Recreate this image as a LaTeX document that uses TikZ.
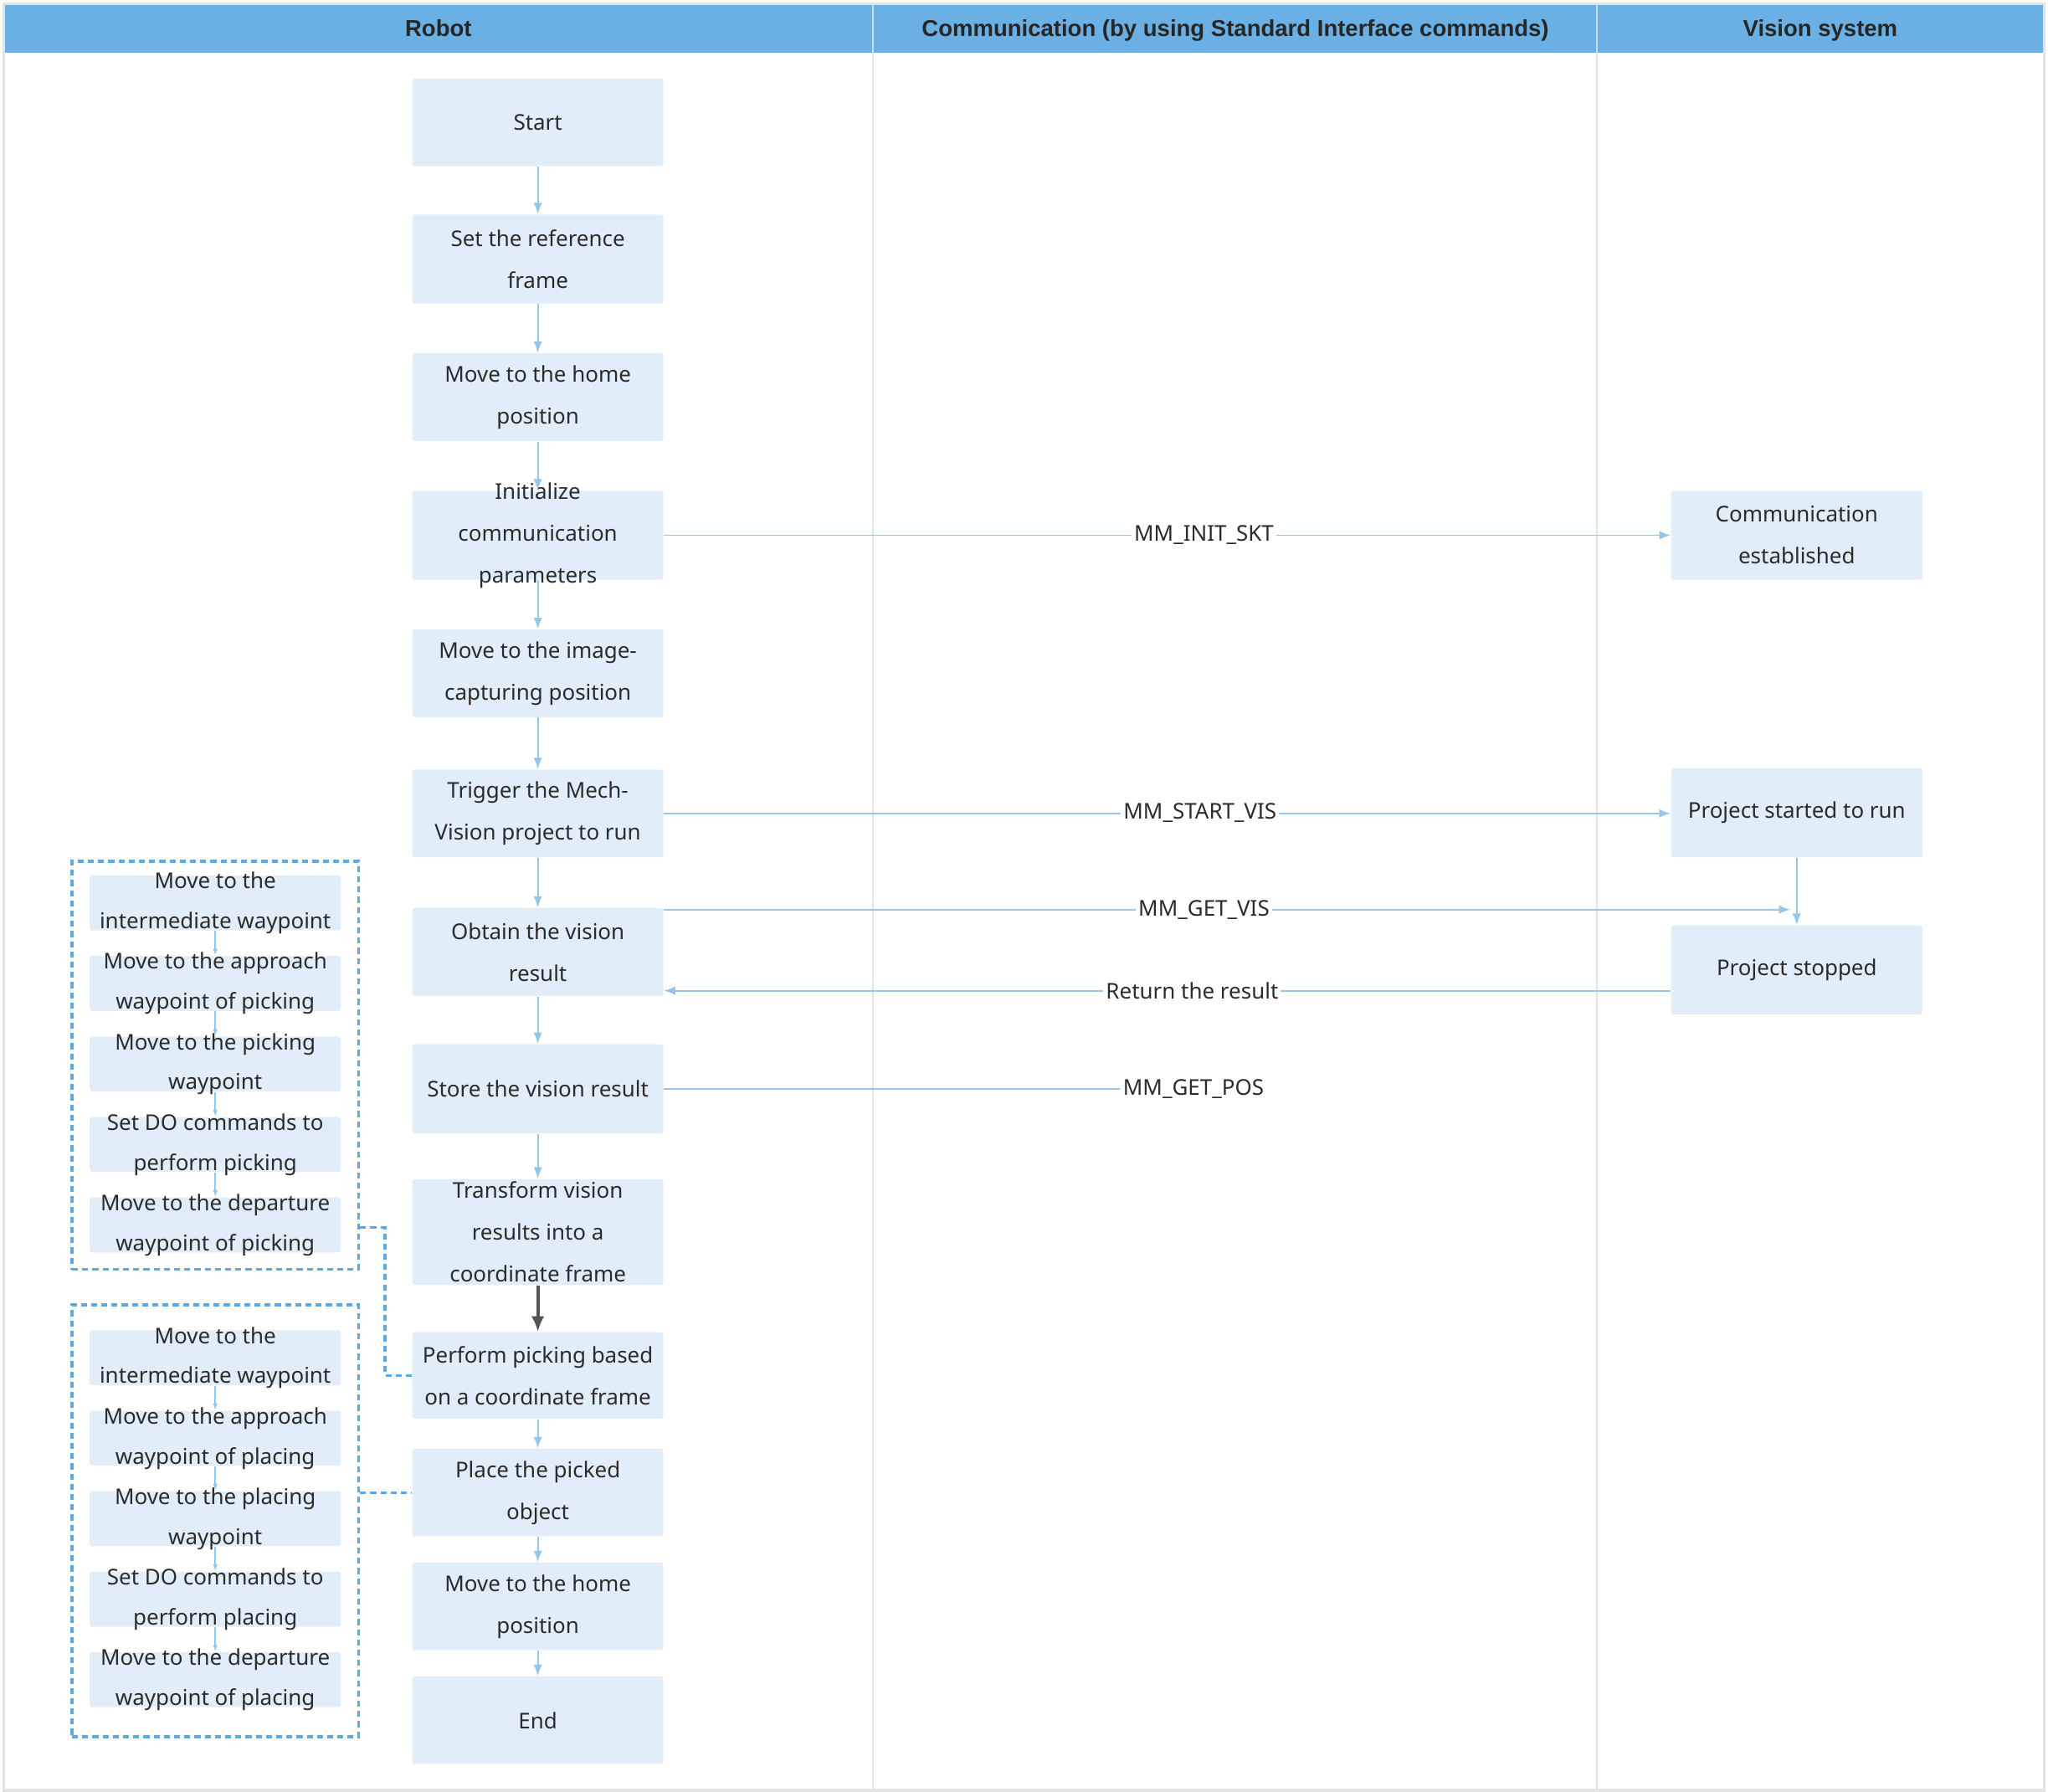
\documentclass[tikz,border=0pt]{standalone}
\usepackage{fontspec}
\setmainfont{Noto Sans}
\newfontfamily\hdrfont{Liberation Sans}
\usetikzlibrary{arrows.meta}
\definecolor{hdr}{HTML}{6AB0E4}
\definecolor{boxfill}{HTML}{E1EEF9}
\definecolor{arr}{HTML}{94C6EC}
\definecolor{dashc}{HTML}{5BAAE5}
\definecolor{txtc}{HTML}{2B2B2B}
\definecolor{gridc}{HTML}{E3E3E3}
\definecolor{darkarr}{HTML}{555555}
\tikzset{
 boxst/.style={fill=boxfill, draw=none, rounded corners=1pt, minimum width=96pt, inner sep=0pt},
 txt/.style={text=txtc, font=\fontsize{8.3}{16}\selectfont, align=center, inner sep=0pt},
 subtxt/.style={text=txtc, font=\fontsize{8.3}{15.3}\selectfont, align=center, inner sep=0pt},
 flow/.style={draw=arr, line width=0.6pt, -{Latex[length=4.3pt,width=3.3pt]}},
 smallflow/.style={draw=arr, line width=0.5pt, -{Latex[length=2.6pt,width=1.8pt]}},
 darkflow/.style={draw=darkarr, line width=1.3pt, -{Latex[length=5.9pt,width=5pt]}},
 plainline/.style={draw=arr, line width=0.6pt},
 msg/.style={text=txtc, font=\fontsize{8.3}{10}\selectfont, fill=white, inner sep=1pt},
 grp/.style={draw=dashc, line width=1.1pt, dash pattern=on 2.3pt off 1.6pt},
 hdrtxt/.style={text=black!85, font=\hdrfont\fontsize{8.8}{10}\selectfont\bfseries, text height=6.4pt, text depth=1.9pt, inner sep=0pt},
}
\newcommand\flowbox[5]{\node[boxst, minimum height=#4] (#1) at (#2,#3) {}; \node[txt] (#1-t) at (#1.center) {#5};}
\newcommand\subbox[4]{\node[boxst, minimum height=21pt] (#1) at (#2,#3) {}; \node[subtxt] (#1-t) at (#1.center) {#4};}
\begin{document}
\begin{tikzpicture}[x=0.5pt,y=-0.5pt]
\useasboundingbox (0,0) rectangle (1565,1369.3);
% frame and header
\fill[white] (0,0) rectangle (1565,1369.3);
\fill[hdr] (3,3) rectangle (1562,40);
\draw[gridc, line width=0.6pt] (667,40) -- (667,1368);
\draw[gridc, line width=0.6pt] (1220,40) -- (1220,1368);
\draw[white!60!hdr, line width=0.6pt] (667,3) -- (667,40);
\draw[white!60!hdr, line width=0.6pt] (1220,3) -- (1220,40);
\draw[gridc, line width=1pt] (3,3) rectangle (1562,1368);
\node[hdrtxt] (h1) at (335,23.5) {Robot};
\node[hdrtxt] (h2) at (944,23.5) {Communication (by using Standard Interface commands)};
\node[hdrtxt] (h3) at (1391,23.5) {Vision system};
% main column
\flowbox{start}{411}{93.5}{33.5pt}{Start}
\flowbox{ref}{411}{198}{34pt}{Set the reference\\frame}
\flowbox{home}{411}{303.5}{33.5pt}{Move to the home\\position}
\flowbox{init}{411}{409}{34pt}{Initialize\\communication\\parameters}
\flowbox{img}{411}{514.5}{33.5pt}{Move to the image-\\capturing position}
\flowbox{trig}{411}{621.5}{33.5pt}{Trigger the Mech-\\Vision project to run}
\flowbox{obt}{411}{727.5}{33.5pt}{Obtain the vision\\result}
\flowbox{store}{411}{832}{34pt}{Store the vision result}
\flowbox{trans}{411}{941.5}{40.5pt}{Transform vision\\results into a\\coordinate frame}
\flowbox{pick}{411}{1051}{33pt}{Perform picking based\\on a coordinate frame}
\flowbox{place}{411}{1140.5}{33.5pt}{Place the picked\\object}
\flowbox{home2}{411}{1227.5}{33.5pt}{Move to the home\\position}
\flowbox{endn}{411}{1314.5}{33.5pt}{End}
% vision column
\flowbox{comm}{1373}{409}{34pt}{Communication\\established}
\flowbox{started}{1373}{621}{34pt}{Project started to run}
\flowbox{stopped}{1373}{741}{34pt}{Project stopped}
% groups
\node[grp, minimum width=109.5pt, minimum height=156pt, inner sep=0pt] (grp1) at (164.5,814) {};
\node[grp, minimum width=109.5pt, minimum height=165pt, inner sep=0pt] (grp2) at (164.5,1162) {};
\subbox{a1}{164.5}{690}{Move to the\\intermediate waypoint}
\subbox{a2}{164.5}{751.5}{Move to the approach\\waypoint of picking}
\subbox{a3}{164.5}{813}{Move to the picking\\waypoint}
\subbox{a4}{164.5}{874.5}{Set DO commands to\\perform picking}
\subbox{a5}{164.5}{936}{Move to the departure\\waypoint of picking}
\subbox{b1}{164.5}{1037.5}{Move to the\\intermediate waypoint}
\subbox{b2}{164.5}{1099}{Move to the approach\\waypoint of placing}
\subbox{b3}{164.5}{1160.5}{Move to the placing\\waypoint}
\subbox{b4}{164.5}{1222}{Set DO commands to\\perform placing}
\subbox{b5}{164.5}{1283.5}{Move to the departure\\waypoint of placing}
\foreach \p/\q in {a1/a2,a2/a3,a3/a4,a4/a5,b1/b2,b2/b3,b3/b4,b4/b5}
  \draw[smallflow] (\p.south) -- (\q.north);
% dashed connectors
\draw[grp] ([yshift=-62pt]grp1.east) -- ++(19,0) |- (pick.west);
\draw[grp] (grp2.east |- place.west) -- (place.west);
% main flow
\draw[flow] (start.south) -- (ref.north);
\draw[flow] (ref.south) -- (home.north);
\draw[flow] (home.south) -- (init.north);
\draw[flow] (init.south) -- (img.north);
\draw[flow] (img.south) -- (trig.north);
\draw[flow] (trig.south) -- (obt.north);
\draw[flow] (obt.south) -- (store.north);
\draw[flow] (store.south) -- (trans.north);
\draw[darkflow] (trans.south) -- (pick.north);
\draw[flow] (pick.south) -- (place.north);
\draw[flow] (place.south) -- (home2.north);
\draw[flow] (home2.south) -- (endn.north);
% messages
\draw[flow] (init.east) -- (comm.west);
\node[msg] (m1) at (920,409) {MM\_INIT\_SKT};
\draw[flow] (trig.east) -- (started.west |- trig.east);
\node[msg] (m2) at (917,621) {MM\_START\_VIS};
\coordinate (gvend) at (1368,695);
\draw[flow] (obt.east |- gvend) -- (gvend);
\node[msg] (m3) at (920,695) {MM\_GET\_VIS};
\draw[flow] (started.south) -- (stopped.north);
\coordinate (ret) at ([yshift=-8pt]stopped.west);
\draw[flow] (ret) -- (ret -| obt.east);
\node[msg] (m4) at (911,757) {Return the result};
\node[msg] (m5) at (912,832) {MM\_GET\_POS};
\draw[plainline] (store.east) -- (m5.west);
\end{tikzpicture}
\end{document}
